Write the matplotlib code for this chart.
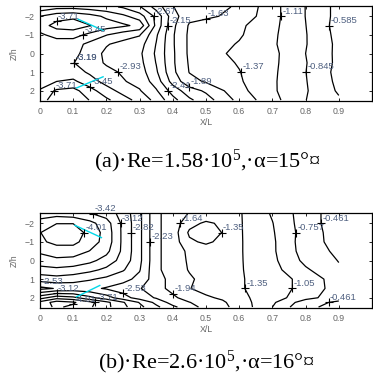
import numpy as np
import matplotlib
matplotlib.use('Agg')
import matplotlib.pyplot as plt

plt.rcParams['font.family'] = ['Liberation Sans', 'DejaVu Sans']
plt.rcParams['mathtext.fontset'] = 'custom'
plt.rcParams['mathtext.rm'] = 'Liberation Serif'
plt.rcParams['mathtext.default'] = 'rm'
plt.rcParams['contour.negative_linestyle'] = 'solid'

# ---------------- data: panel (a) ----------------
x_a = [0, .05, .1, .15, .2, .25, .3, .35, .4, .45, .5, .6, .7, .8, .9]
z_a = [-2.5, -2.0, -1.5, -1.0, -0.5, 0.0, 0.5, 1.0, 1.5, 2.0, 2.5]
cp_a = [
    [-3.00, -3.10, -3.10, -3.05, -3.00, -2.90, -2.70, -2.30, -1.90, -1.75, -1.72, -1.60, -1.20, -0.84, -0.50],
    [-3.45, -3.60, -3.65, -3.55, -3.40, -3.25, -3.05, -2.60, -2.00, -1.70, -1.68, -1.55, -1.20, -0.84, -0.50],
    [-3.60, -3.80, -3.85, -3.72, -3.58, -3.50, -3.38, -2.60, -1.95, -1.60, -1.52, -1.42, -1.18, -0.85, -0.48],
    [-3.40, -3.55, -3.55, -3.38, -3.20, -3.05, -2.95, -2.45, -1.92, -1.58, -1.50, -1.40, -1.16, -0.86, -0.50],
    [-3.25, -3.30, -3.30, -3.12, -2.95, -2.85, -2.78, -2.40, -1.92, -1.58, -1.50, -1.35, -1.15, -0.86, -0.52],
    [-3.30, -3.35, -3.28, -3.05, -2.88, -2.80, -2.72, -2.37, -1.93, -1.58, -1.48, -1.30, -1.18, -0.845, -0.52],
    [-3.20, -3.25, -3.20, -3.05, -2.90, -2.82, -2.75, -2.40, -1.93, -1.60, -1.50, -1.35, -1.17, -0.86, -0.52],
    [-3.25, -3.30, -3.30, -3.15, -3.00, -2.90, -2.80, -2.45, -1.95, -1.62, -1.55, -1.38, -1.16, -0.85, -0.50],
    [-3.20, -3.45, -3.50, -3.30, -3.10, -2.95, -2.85, -2.55, -2.05, -1.72, -1.60, -1.40, -1.15, -0.86, -0.52],
    [-3.50, -3.75, -3.80, -3.55, -3.30, -3.10, -2.95, -2.70, -2.30, -2.00, -1.85, -1.45, -1.15, -0.87, -0.55],
    [-3.60, -3.85, -3.90, -3.70, -3.50, -3.30, -3.10, -2.85, -2.50, -2.20, -2.00, -1.55, -1.20, -0.85, -0.62],
]
levels_a = [-3.71, -3.45, -3.19, -2.93, -2.67, -2.41, -2.15, -1.89, -1.63, -1.37, -1.11, -0.845, -0.585]
labels_a = [(-3.71, 0.05, -1.85), (-3.45, 0.12, -1.05), (-3.19, 0.04, -0.4),
            (-2.67, 0.33, -2.3), (-2.15, 0.40, -1.7), (-1.63, 0.50, -2.2),
            (-1.11, 0.71, -2.05), (-0.585, 0.84, -1.6), (-1.37, 0.61, 0.9),
            (-0.845, 0.80, 1.2), (-1.89, 0.43, 1.85), (-2.41, 0.38, 1.9),
            (-2.93, 0.20, 1.8), (-3.45, 0.15, 2.05), (-3.71, 0.04, 2.1),
            (-3.19, 0.03, 1.6)]
cyan_a = [([0.115, 0.19], [-1.84, -1.24]), ([0.11, 0.19], [1.85, 1.25])]

# ---------------- data: panel (b) ----------------
x_b = [0, .05, .1, .15, .2, .25, .3, .35, .4, .45, .5, .55, .6, .7, .8, .9]
z_b = [-2.5, -2.0, -1.5, -1.0, -0.5, 0.0, 0.5, 1.0, 1.5, 2.0, 2.25, 2.5]
cp_b = [
    [-3.55, -3.60, -3.55, -3.45, -3.30, -3.00, -2.60, -2.00, -1.80, -1.62, -1.55, -1.50, -1.38, -1.02, -0.60, -0.30],
    [-3.85, -4.00, -4.00, -3.80, -3.55, -3.05, -2.60, -2.00, -1.80, -1.45, -1.30, -1.40, -1.38, -1.06, -0.60, -0.30],
    [-4.00, -4.20, -4.20, -3.90, -3.60, -3.05, -2.60, -2.00, -1.80, -1.30, -1.20, -1.36, -1.38, -1.08, -0.62, -0.32],
    [-3.95, -4.10, -4.10, -3.85, -3.60, -3.05, -2.60, -2.00, -1.80, -1.40, -1.30, -1.42, -1.38, -1.10, -0.60, -0.35],
    [-3.75, -3.85, -3.85, -3.70, -3.50, -3.05, -2.60, -2.00, -1.80, -1.58, -1.50, -1.50, -1.38, -1.10, -0.62, -0.40],
    [-3.60, -3.65, -3.62, -3.50, -3.30, -3.00, -2.60, -2.00, -1.80, -1.60, -1.52, -1.50, -1.38, -1.12, -0.68, -0.45],
    [-3.30, -3.35, -3.30, -3.20, -3.05, -2.85, -2.55, -2.00, -1.80, -1.62, -1.55, -1.50, -1.38, -1.15, -0.80, -0.50],
    [-2.95, -3.00, -2.95, -2.85, -2.75, -2.62, -2.45, -2.05, -1.85, -1.68, -1.55, -1.50, -1.38, -1.20, -0.95, -0.60],
    [-2.45, -2.55, -2.60, -2.60, -2.50, -2.40, -2.25, -2.05, -1.85, -1.65, -1.55, -1.50, -1.38, -1.20, -0.95, -0.62],
    [-3.30, -3.60, -3.50, -3.20, -2.95, -2.65, -2.40, -2.20, -2.00, -1.80, -1.68, -1.60, -1.42, -1.20, -0.85, -0.60],
    [-3.80, -4.15, -4.05, -3.80, -3.50, -3.15, -2.80, -2.45, -2.10, -1.95, -1.80, -1.68, -1.50, -1.10, -0.60, -0.40],
    [-3.90, -4.05, -3.95, -3.75, -3.50, -3.20, -2.90, -2.60, -2.30, -2.05, -1.85, -1.70, -1.55, -1.05, -0.50, -0.40],
]
levels_b = [-4.01, -3.71, -3.42, -3.12, -2.82, -2.53, -2.23, -1.94, -1.64, -1.35, -1.05, -0.757, -0.461]
labels_b = [(-4.01, 0.13, -1.35), (-3.42, 0.14, -2.55), (-3.12, 0.26, -1.95),
            (-2.82, 0.275, -1.35), (-2.23, 0.335, -0.8), (-1.64, 0.42, -2.25),
            (-1.35, 0.54, -1.55), (-0.757, 0.757, -1.5), (-0.461, 0.84, -2.15),
            (-1.35, 0.605, 1.8), (-1.05, 0.765, 1.85), (-0.461, 0.87, 2.3),
            (-1.94, 0.39, 2.2), (-2.53, 0.24, 1.75), (-2.53, 0.0, 1.3),
            (-3.12, 0.06, 1.85), (-4.01, 0.1, 2.3), (-3.71, 0.165, 2.4)]
cyan_b = [([0.105, 0.185], [-1.89, -1.23]), ([0.11, 0.18], [1.95, 1.34])]

xticks = [0, 0.1, 0.2, 0.3, 0.4, 0.5, 0.6, 0.7, 0.8, 0.9]
xticklabels = ['0', '0.1', '0.2', '0.3', '0.4', '0.5', '0.6', '0.7', '0.8', '0.9']
yticks = [-2, -1, 0, 1, 2]

caption_a = r'(a)·Re=1.58·10$^{5}$,·α=15°¤'
caption_b = r'(b)·Re=2.6·10$^{5}$,·α=16°¤'

LABEL_COLOR = '#4f6080'
TICK_COLOR = '#666666'

fig = plt.figure(figsize=(3.73, 3.75), dpi=100)
W, H = 373.0, 375.0


def panel(top_px, bottom_px, xs, zs, vals, levels, labels, cyans, caption, cap_y):
    ax = fig.add_axes([40 / W, 1 - bottom_px / H, 332 / W, (bottom_px - top_px) / H])
    X, Z = np.meshgrid(xs, zs)
    V = np.array(vals)
    cs = ax.contour(X, Z, V, levels=levels, colors='k', linewidths=0.9,
                    linestyles='solid')
    for xx, zz in cyans:
        ax.plot(xx, zz, color='#00d8e8', lw=1.0)
    for lev, lx, lz in labels:
        i = levels.index(lev)
        best = None
        for seg in cs.allsegs[i]:
            if len(seg) == 0:
                continue
            d = ((seg[:, 0] - lx) * 333) ** 2 + ((seg[:, 1] - lz) * 19) ** 2
            j = int(np.argmin(d))
            if best is None or d[j] < best[0]:
                best = (d[j], seg[j, 0], seg[j, 1])
        if best is None:
            continue
        _, px, pz = best
        ax.plot([px], [pz], marker='+', color='k', ms=5.5, mew=0.8)
        ax.annotate('%.3g' % lev, (px, pz), xytext=(1.0, 0.5), textcoords='offset points',
                    fontsize=6.8, color=LABEL_COLOR, ha='left', va='bottom')
    ax.set_xlim(0, 1)
    ax.set_ylim(2.55, -2.55)
    ax.set_xticks(xticks)
    ax.set_xticklabels(xticklabels)
    ax.set_yticks(yticks)
    ax.tick_params(direction='in', length=2.5, width=0.6, labelsize=6.3,
                   labelcolor=TICK_COLOR, top=True, right=True, pad=4)
    ax.set_xlabel('X/L', fontsize=6.3, color=TICK_COLOR, labelpad=1.5)
    ax.set_ylabel('Z/h', fontsize=6.3, color=TICK_COLOR, labelpad=4)
    for s in ax.spines.values():
        s.set_linewidth(0.9)
    fig.text(207 / W, 1 - cap_y / H, caption, ha='center', va='center',
             fontsize=16, family='Liberation Serif')
    return ax


panel(6, 101, x_a, z_a, cp_a, levels_a, labels_a, cyan_a, caption_a, 161)
panel(213, 308, x_b, z_b, cp_b, levels_b, labels_b, cyan_b, caption_b, 362)

fig.savefig('out.png', dpi=100)
